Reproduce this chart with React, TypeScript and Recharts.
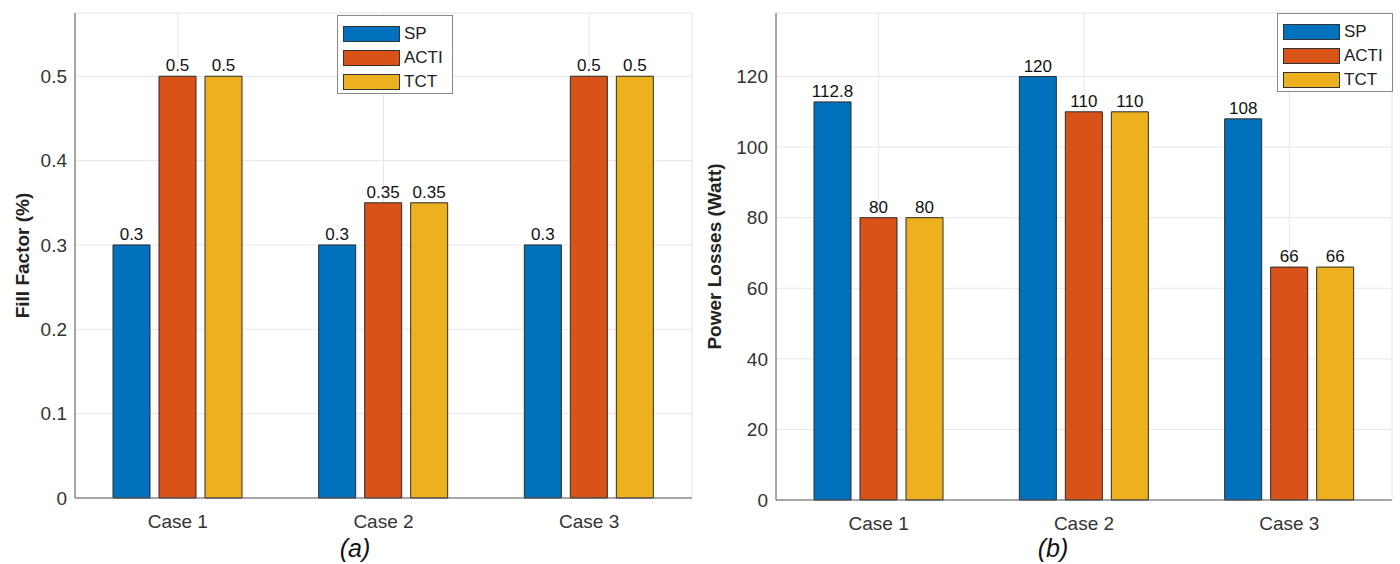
import { Bar, BarChart, CartesianGrid, LabelList, Legend, XAxis, YAxis } from 'recharts'

const categories = ['Case 1', 'Case 2', 'Case 3']
const seriesNames = ['SP', 'ACTI', 'TCT']
const seriesColors = ['#0072BD', '#D95319', '#EDB120']

const fillSP = [0.3, 0.3, 0.3]
const fillACTI = [0.5, 0.35, 0.5]
const fillTCT = [0.5, 0.35, 0.5]
const fillTicks = [0, 0.1, 0.2, 0.3, 0.4, 0.5]

const lossSP = [112.8, 120, 108]
const lossACTI = [80, 110, 66]
const lossTCT = [80, 110, 66]
const lossTicks = [0, 20, 40, 60, 80, 100, 120]

const fillData = categories.map((name, i) => ({ name, SP: fillSP[i], ACTI: fillACTI[i], TCT: fillTCT[i] }))
const lossData = categories.map((name, i) => ({ name, SP: lossSP[i], ACTI: lossACTI[i], TCT: lossTCT[i] }))

const FONT = '"Liberation Sans", Arial, Helvetica, sans-serif'
const AXIS = '#5a5a5a'
const TEXT = '#333333'

const LegendBox = () => (
  <div
    style={{
      width: 116,
      height: 79,
      border: '1px solid #8a8a8a',
      background: '#fff',
      boxSizing: 'border-box',
      paddingTop: 6,
      paddingLeft: 5,
      fontFamily: FONT,
    }}
  >
    {seriesNames.map((s, i) => (
      <div key={s} style={{ display: 'flex', alignItems: 'center', height: 24 }}>
        <div style={{ width: 57, height: 16, background: seriesColors[i], border: '1px solid #333', boxSizing: 'border-box' }} />
        <span style={{ marginLeft: 4, fontSize: 17, color: '#222', lineHeight: '16px' }}>{s}</span>
      </div>
    ))}
  </div>
)

type PanelProps = {
  data: { name: string; SP: number; ACTI: number; TCT: number }[]
  ticks: number[]
  domainMax: number
  title: string
  yWidth: number
  bottom: number
  titleX: number
  legendPos: { left: number; top: number }
}

const Panel = ({ data, ticks, domainMax, title, yWidth, bottom, titleX, legendPos }: PanelProps) => (
  <BarChart
    width={700}
    height={564}
    data={data}
    margin={{ top: 13, right: 8, bottom, left: 0 }}
    barSize={37}
    barGap={9}
  >
    <CartesianGrid stroke='#e6e6e6' />
    <XAxis
      dataKey='name'
      height={30}
      tickLine={false}
      tickMargin={11}
      axisLine={{ stroke: AXIS }}
      tick={{ fill: TEXT, fontSize: 19, fontFamily: FONT }}
    />
    <XAxis xAxisId='top' dataKey='name' orientation='top' height={0} mirror tick={false} tickSize={5} tickLine={{ stroke: AXIS }} axisLine={{ stroke: AXIS }} />
    <YAxis
      width={yWidth}
      domain={[0, domainMax]}
      ticks={ticks}
      tickLine={false}
      axisLine={{ stroke: AXIS }}
      tick={{ fill: TEXT, fontSize: 19, fontFamily: FONT }}
      label={{
        content: (p: any) => {
          const cy = p.viewBox.y + p.viewBox.height / 2
          return (
            <text
              x={titleX}
              y={cy}
              transform={`rotate(-90, ${titleX}, ${cy})`}
              textAnchor='middle'
              dominantBaseline='central'
              fontFamily={FONT}
              fontWeight='bold'
              fontSize={19}
              fill='#222'
            >
              {title}
            </text>
          )
        },
      }}
    />
    <YAxis yAxisId='r' orientation='right' width={0} domain={[0, domainMax]} ticks={ticks} mirror tick={false} tickSize={5} tickLine={{ stroke: AXIS }} axisLine={{ stroke: AXIS }} />
    <Legend
      layout='vertical'
      align='center'
      verticalAlign='middle'
      content={() => <LegendBox />}
      wrapperStyle={{ left: legendPos.left, top: legendPos.top, width: 116, height: 79 }}
    />
    {seriesNames.map((s, i) => (
      <Bar key={s} dataKey={s} fill={seriesColors[i]} stroke='#2a2a2a' strokeWidth={1} isAnimationActive={false}>
        <LabelList dataKey={s} position='top' offset={5} fill='#111' fontSize={17} fontFamily={FONT} />
      </Bar>
    ))}
  </BarChart>
)

const Caption = ({ text, x }: { text: string; x: number }) => (
  <div
    style={{
      position: 'absolute',
      left: x - 40,
      top: 534,
      width: 80,
      textAlign: 'center',
      fontFamily: FONT,
      fontStyle: 'italic',
      fontSize: 25,
      color: '#111',
      lineHeight: '28px',
    }}
  >
    {text}
  </div>
)

export default function App() {
  return (
    <div style={{ position: 'fixed', left: 0, top: 0, width: 1400, height: 564, background: '#fff' }}>
      <div style={{ position: 'absolute', left: 0, top: 0 }}>
        <Panel
          data={fillData}
          ticks={fillTicks}
          domainMax={0.575}
          title='Fill Factor (%)'
          yWidth={75}
          bottom={36}
          titleX={22}
          legendPos={{ left: 337, top: 15 }}
        />
      </div>
      <div style={{ position: 'absolute', left: 700, top: 0 }}>
        <Panel
          data={lossData}
          ticks={lossTicks}
          domainMax={138}
          title='Power Losses (Watt)'
          yWidth={76}
          bottom={34}
          titleX={14}
          legendPos={{ left: 577, top: 13 }}
        />
      </div>
      <Caption text='(a)' x={355} />
      <Caption text='(b)' x={1053} />
    </div>
  )
}
